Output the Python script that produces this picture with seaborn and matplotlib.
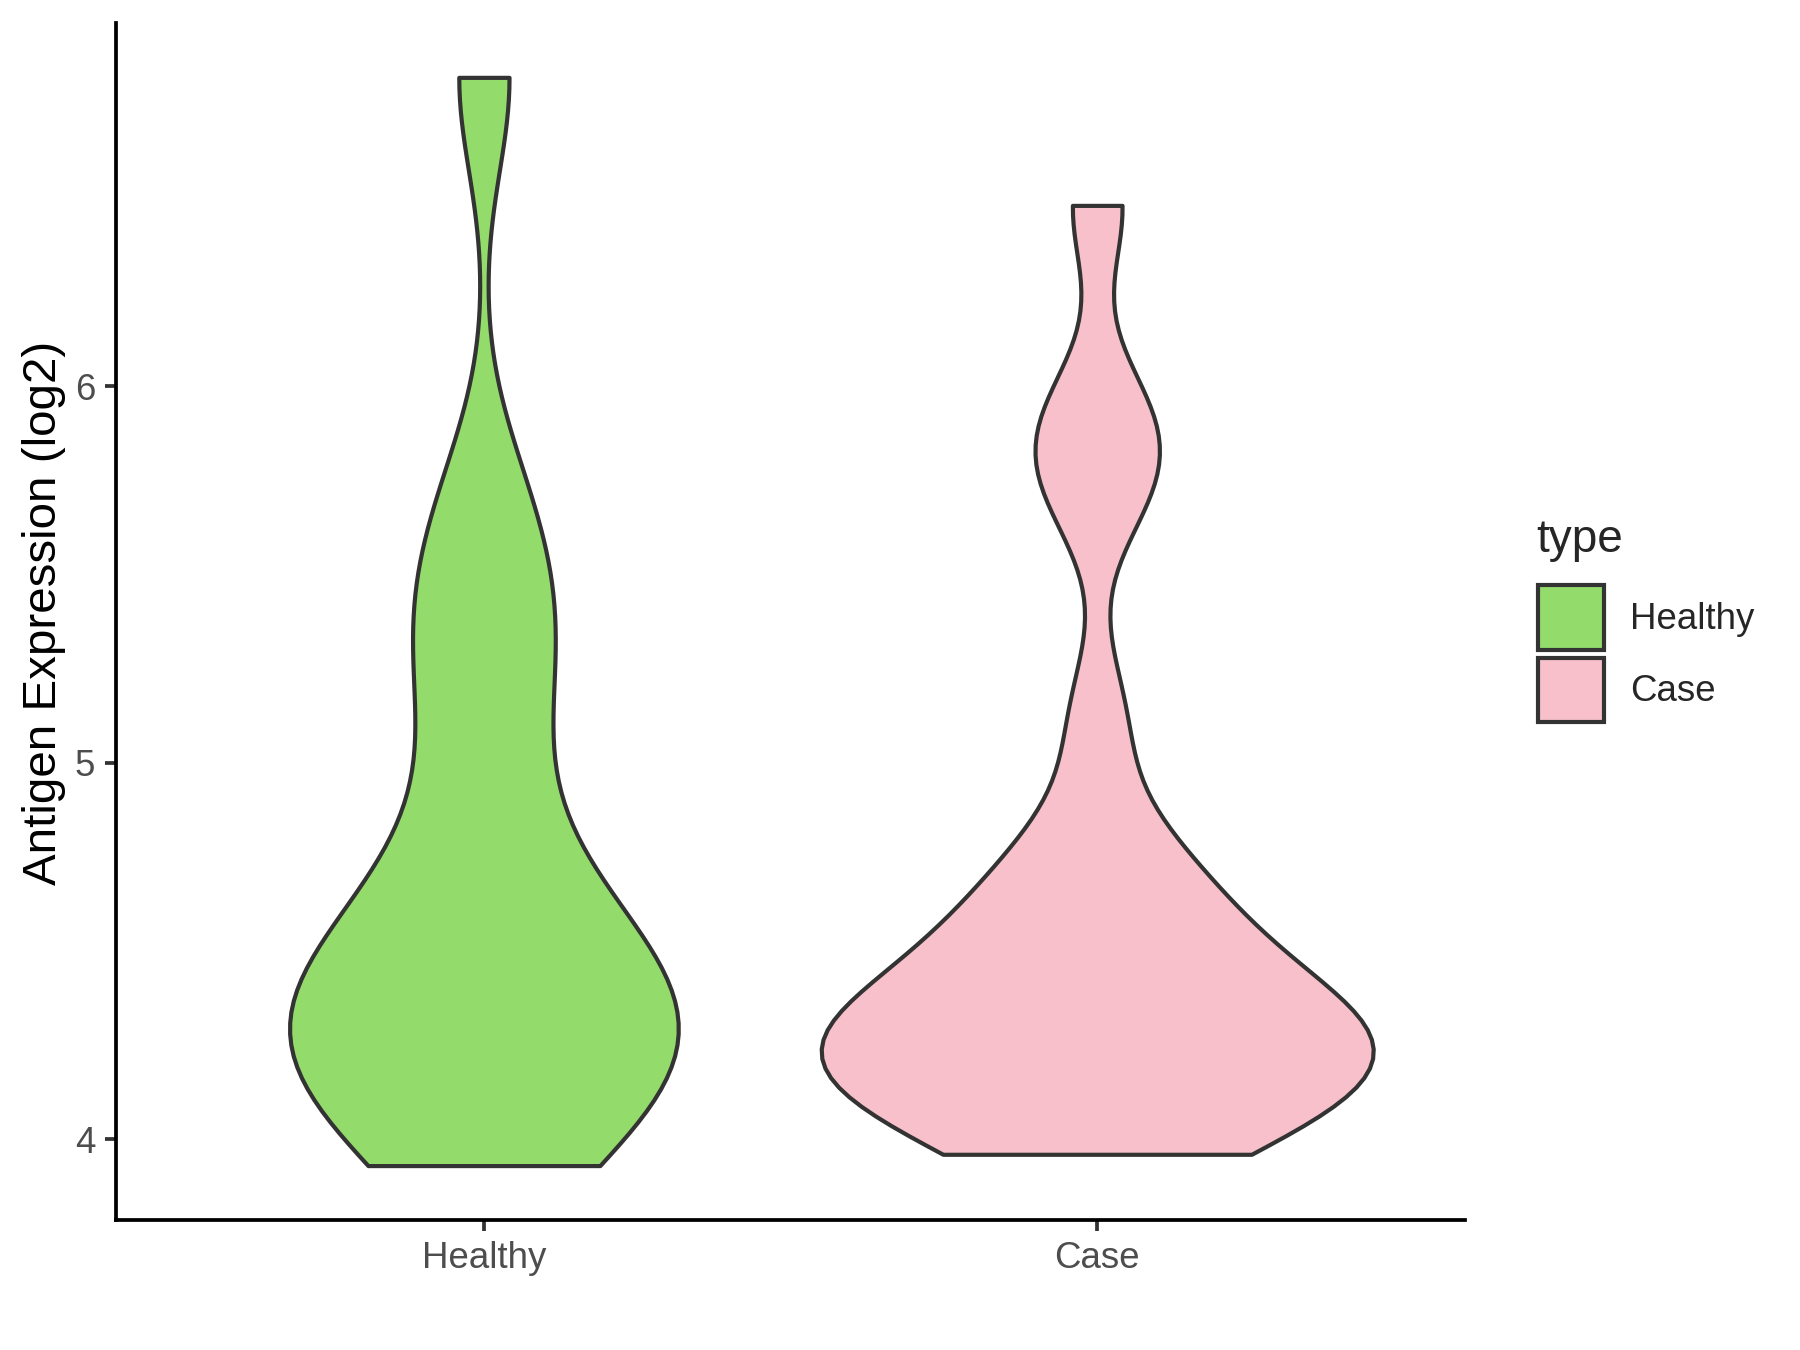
import numpy as np
import pandas as pd
import seaborn as sns
import matplotlib.pyplot as plt
from matplotlib.patches import Patch

# Antigen expression values (log2)
healthy = [3.93, 3.99, 4.12, 4.18, 4.23, 4.32, 4.36, 4.40, 4.50, 4.60,
           4.75, 5.05, 5.30, 5.45, 5.70, 6.82]
case = [3.96, 4.00, 4.03, 4.08, 4.12, 4.16, 4.20, 4.22, 4.24, 4.28,
        4.30, 4.32, 4.36, 4.42, 4.48, 4.55, 4.62, 4.70, 4.80, 5.12,
        5.70, 5.83, 5.95, 6.48]
groups = ['Healthy', 'Case']
colors = ['#93DB6B', '#F7C0CB']
# kernel bandwidth of each violin (log2 units)
bandwidths = {len(healthy): 0.25, len(case): 0.17}


def fixed_bw(kde):
    # gaussian_kde wants a factor of the data sd, so convert the bandwidth
    x = kde.dataset[0]
    return bandwidths[len(x)] / np.std(x, ddof=1)


df = pd.DataFrame({
    'type': ['Healthy'] * len(healthy) + ['Case'] * len(case),
    'value': healthy + case,
})

sns.set_style('white')
plt.rcParams['font.family'] = ['Liberation Sans', 'DejaVu Sans']

fig = plt.figure(figsize=(6, 4.5), dpi=300)
ax = fig.add_axes([0.0644, 0.0963, 0.7496, 0.8867])

# common_norm so both violins share one density scale (equal areas)
sns.violinplot(data=df, x='type', y='value', hue='type', order=groups,
               hue_order=groups, palette=dict(zip(groups, colors)),
               saturation=1, inner=None, cut=0, density_norm='area',
               common_norm=True, width=0.9, bw_method=fixed_bw,
               linewidth=1.0, linecolor='#333333', legend=False, ax=ax)

ax.set_xlim(-0.6, 1.6)
ax.set_ylim(3.7855, 6.9645)
ax.set_yticks([4, 5, 6])
ax.set_xlabel('')
ax.set_ylabel('Antigen Expression (log2)', fontsize=11.4, color='black',
              labelpad=2)
ax.yaxis.label.set_y(0.507)
for side in ['top', 'right']:
    ax.spines[side].set_visible(False)
for side in ['left', 'bottom']:
    ax.spines[side].set_linewidth(0.9)
    ax.spines[side].set_color('black')
ax.tick_params(axis='both', length=2.75, width=0.9, color='#333333',
               labelsize=8.8, labelcolor='#4D4D4D', pad=2.2)
ax.tick_params(left=True, bottom=True)

# legend outside the panel, title drawn apart to get ggplot's spacing
fig.text(0.8533, 0.6003, 'type', fontsize=11, va='center', ha='left')
handles = [Patch(facecolor=c, edgecolor='#333333', linewidth=1.0, label=g)
           for g, c in zip(groups, colors)]
leg = fig.legend(handles=handles, loc='upper left',
                 bbox_to_anchor=(0.8544, 0.5663), frameon=False,
                 borderpad=0, borderaxespad=0, fontsize=8.8,
                 handlelength=1.8, handleheight=2.32, handletextpad=0.72,
                 labelspacing=0.22)

fig.savefig('out.png', dpi=300)
